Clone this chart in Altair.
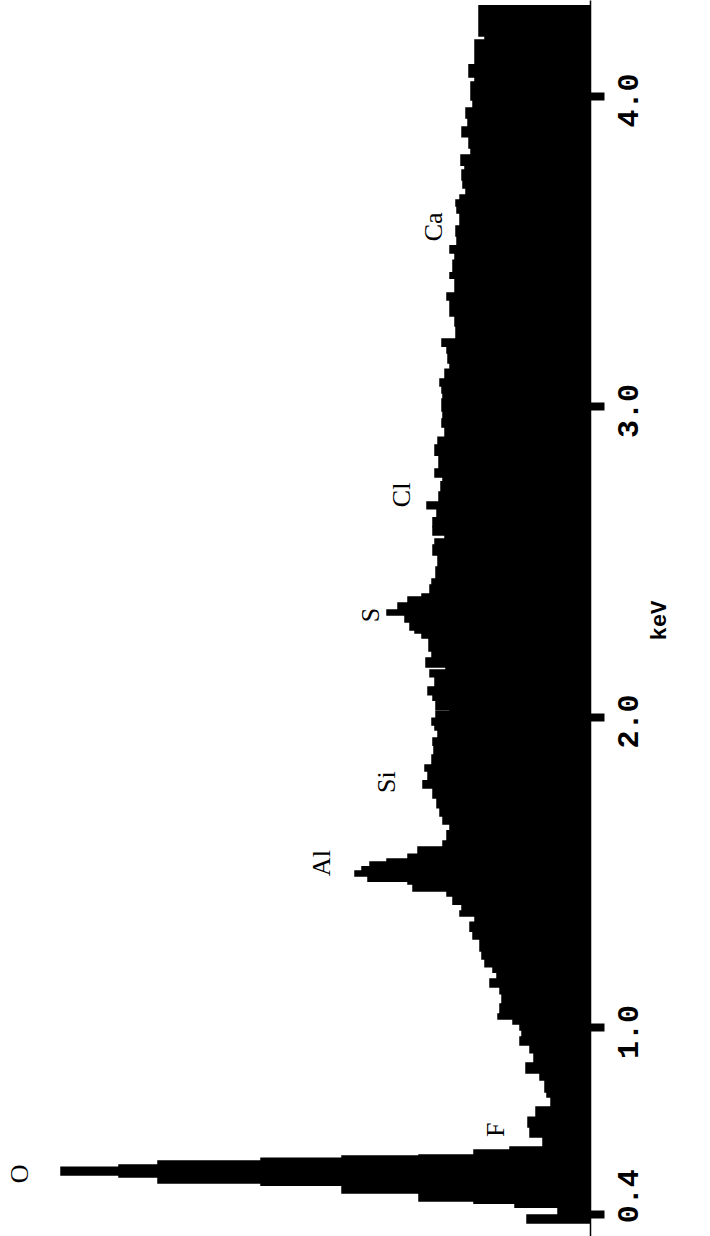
import altair as alt
import pandas as pd

# Histogram step edges (keV), low to high
edges_kev = [0.370, 0.396, 0.421, 0.434, 0.441, 0.467, 0.492, 0.499, 0.518, 0.525,
             0.550, 0.557, 0.570, 0.579, 0.586, 0.589, 0.605, 0.615, 0.647, 0.679,
             0.711, 0.744, 0.776, 0.792, 0.831, 0.853, 0.885, 0.918, 0.943, 0.969,
             0.992, 1.011, 1.027, 1.043, 1.075, 1.108, 1.130, 1.156, 1.178, 1.195,
             1.220, 1.246, 1.285, 1.310, 1.339, 1.359, 1.375, 1.397, 1.423, 1.439,
             1.462, 1.471, 1.488, 1.504, 1.517, 1.533, 1.542, 1.558, 1.581, 1.600,
             1.633, 1.655, 1.681, 1.707, 1.739, 1.771, 1.794, 1.826, 1.845, 1.877,
             1.909, 1.932, 1.958, 1.974, 1.996, 2.019, 2.025, 2.054, 2.071, 2.096,
             2.129, 2.151, 2.161, 2.190, 2.212, 2.254, 2.270, 2.280, 2.306, 2.328,
             2.344, 2.367, 2.386, 2.396, 2.425, 2.444, 2.483, 2.521, 2.554, 2.573,
             2.586, 2.612, 2.641, 2.670, 2.692, 2.724, 2.757, 2.773, 2.798, 2.843,
             2.876, 2.901, 2.934, 2.959, 2.985, 3.024, 3.043, 3.066, 3.088, 3.120,
             3.140, 3.172, 3.194, 3.217, 3.259, 3.291, 3.343, 3.365, 3.413, 3.430,
             3.471, 3.494, 3.517, 3.549, 3.581, 3.623, 3.645, 3.665, 3.681, 3.703,
             3.729, 3.761, 3.777, 3.810, 3.832, 3.868, 3.900, 3.929, 3.961, 3.987,
             4.045, 4.061, 4.100, 4.180, 4.193, 4.290]

# Counts (arbitrary units) in each step
counts = [63, 32, 75, 116, 171, 248, 329, 432, 471, 529,
          471, 432, 329, 248, 171, 116, 80, 47, 60, 62,
          54, 39, 43, 45, 50, 64, 56, 60, 70, 68,
          70, 77, 92, 90, 88, 90, 100, 93, 97, 105,
          108, 110, 117, 120, 115, 130, 128, 137, 143, 177,
          182, 222, 235, 228, 220, 203, 182, 172, 147, 143,
          140, 147, 150, 153, 157, 167, 162, 165, 158, 156,
          157, 152, 155, 158, 154, 140, 154, 157, 162, 155,
          160, 144, 164, 158, 161, 168, 175, 180, 185, 203,
          192, 182, 168, 160, 158, 154, 152, 157, 155, 145,
          157, 157, 153, 163, 151, 149, 147, 155, 151, 155,
          152, 145, 148, 147, 148, 147, 148, 150, 145, 140,
          142, 143, 148, 134, 135, 140, 143, 135, 140, 137,
          135, 140, 133, 134, 130, 133, 134, 130, 124, 127,
          128, 125, 129, 119, 121, 128, 122, 124, 117, 119,
          115, 121, 115, 105, 111]

# Element annotations
elements = ["O", "F", "Al", "Si", "S", "Cl", "Ca"]
label_kev = [0.528, 0.670, 1.529, 1.790, 2.328, 2.715, 3.578]
label_level = [570, 94, 268, 203, 219, 188, 156]

tick_values = [0.4, 1.0, 2.0, 3.0, 4.0]

spec_df = pd.DataFrame({"lo": edges_kev[:-1], "hi": edges_kev[1:], "count": counts})
lab_df = pd.DataFrame({"el": elements, "kev": label_kev, "lvl": label_level})

xscale = alt.Scale(domain=[0, 590], reverse=True)
yscale = alt.Scale(domain=[0.3282, 4.3088], nice=False, zero=False)

spectrum = alt.Chart(spec_df).mark_rect(
    color="black", stroke="black", strokeWidth=1.5
).encode(
    x=alt.X("count:Q", scale=xscale, axis=None),
    x2=alt.datum(0),
    y=alt.Y(
        "lo:Q",
        scale=yscale,
        axis=alt.Axis(
            orient="right",
            values=tick_values,
            format=".1f",
            title="keV",
            grid=False,
            domain=True,
            domainColor="black",
            domainWidth=1.5,
            ticks=True,
            tickColor="black",
            tickSize=14,
            tickWidth=8,
            labelFont="Liberation Mono",
            labelFontWeight="bold",
            labelFontSize=30,
            labelColor="black",
            labelAngle=270,
            labelAlign="center",
            labelBaseline="top",
            labelPadding=9,
            labelOverlap=False,
            labelBound=False,
            labelFlush=False,
            labelOffset={"condition": {"test": "datum.value < 0.5", "value": -18}, "value": 4},
            titleFont="Liberation Mono",
            titleFontWeight="bold",
            titleFontSize=22,
            titleColor="black",
            titleAngle=270,
            titleAlign="center",
            titleBaseline="top",
            titleX=58,
            titleY=620,
        ),
    ),
    y2="hi:Q",
)

labels = alt.Chart(lab_df).mark_text(
    angle=270, align="center", baseline="middle",
    font="Liberation Serif", fontSize=26, color="black"
).encode(
    x=alt.X("lvl:Q", scale=xscale, axis=None),
    y=alt.Y("kev:Q", scale=yscale, axis=None),
    text="el:N",
)

chart = alt.layer(spectrum, labels).resolve_axis(y="independent").properties(
    width=590,
    height=1236,
    padding={"left": 0, "top": 0, "right": 120, "bottom": 0},
    autosize=alt.AutoSizeParams(type="none"),
    background="white",
).configure_view(stroke=None)

chart.save("out.html", embed_options={"renderer": "svg", "actions": False})
